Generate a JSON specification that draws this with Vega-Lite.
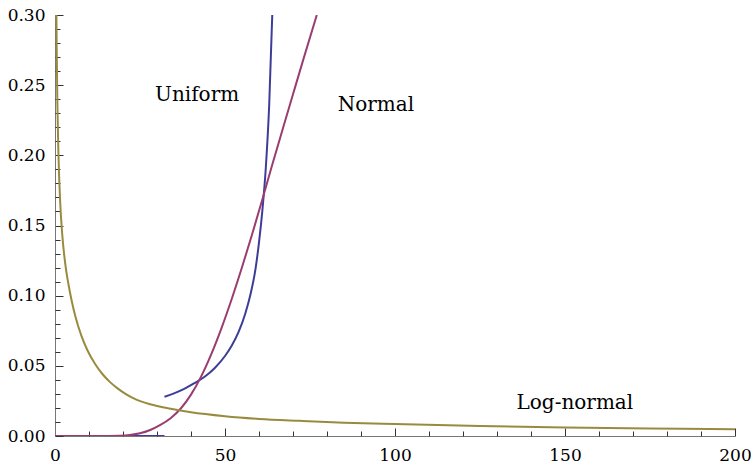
{
  "$schema": "https://vega.github.io/schema/vega-lite/v6.json",
  "width": 680,
  "height": 421,
  "autosize": {"type": "none"},
  "padding": {"left": 55, "top": 15, "right": 16, "bottom": 27},
  "config": {
    "view": {"stroke": null},
    "axis": {"grid": false, "labelFont": "DejaVu Serif", "labelFontSize": 17, "labelColor": "#000", "title": null}
  },
  "datasets": {
    "curves": [
      {"dist": "Uniform", "part": "u0", "x": 0, "y": 0},
      {"dist": "Uniform", "part": "u0", "x": 32.2, "y": 0},
      {"dist": "Uniform", "part": "u1", "x": 32.2, "y": 0.028},
      {"dist": "Uniform", "part": "u1", "x": 35, "y": 0.0304},
      {"dist": "Uniform", "part": "u1", "x": 38, "y": 0.0336},
      {"dist": "Uniform", "part": "u1", "x": 41, "y": 0.0376},
      {"dist": "Uniform", "part": "u1", "x": 44, "y": 0.0422},
      {"dist": "Uniform", "part": "u1", "x": 47, "y": 0.0485},
      {"dist": "Uniform", "part": "u1", "x": 50, "y": 0.057},
      {"dist": "Uniform", "part": "u1", "x": 52, "y": 0.0645},
      {"dist": "Uniform", "part": "u1", "x": 54, "y": 0.0742},
      {"dist": "Uniform", "part": "u1", "x": 56, "y": 0.0875},
      {"dist": "Uniform", "part": "u1", "x": 57.5, "y": 0.101},
      {"dist": "Uniform", "part": "u1", "x": 59, "y": 0.1195},
      {"dist": "Uniform", "part": "u1", "x": 60, "y": 0.138},
      {"dist": "Uniform", "part": "u1", "x": 61, "y": 0.161},
      {"dist": "Uniform", "part": "u1", "x": 62, "y": 0.191},
      {"dist": "Uniform", "part": "u1", "x": 63, "y": 0.236},
      {"dist": "Uniform", "part": "u1", "x": 63.9, "y": 0.30},
      {"dist": "Normal", "part": "n", "x": 0, "y": 0},
      {"dist": "Normal", "part": "n", "x": 12, "y": 0},
      {"dist": "Normal", "part": "n", "x": 16, "y": 0.00005},
      {"dist": "Normal", "part": "n", "x": 19, "y": 0.0002},
      {"dist": "Normal", "part": "n", "x": 22, "y": 0.0007},
      {"dist": "Normal", "part": "n", "x": 25, "y": 0.0019},
      {"dist": "Normal", "part": "n", "x": 28, "y": 0.0043},
      {"dist": "Normal", "part": "n", "x": 31, "y": 0.0079},
      {"dist": "Normal", "part": "n", "x": 34, "y": 0.0127},
      {"dist": "Normal", "part": "n", "x": 37, "y": 0.0196},
      {"dist": "Normal", "part": "n", "x": 40, "y": 0.0295},
      {"dist": "Normal", "part": "n", "x": 43, "y": 0.0425},
      {"dist": "Normal", "part": "n", "x": 46, "y": 0.0585},
      {"dist": "Normal", "part": "n", "x": 49, "y": 0.0771},
      {"dist": "Normal", "part": "n", "x": 52, "y": 0.0978},
      {"dist": "Normal", "part": "n", "x": 55, "y": 0.1202},
      {"dist": "Normal", "part": "n", "x": 58, "y": 0.1439},
      {"dist": "Normal", "part": "n", "x": 61, "y": 0.1687},
      {"dist": "Normal", "part": "n", "x": 64, "y": 0.1942},
      {"dist": "Normal", "part": "n", "x": 67, "y": 0.2189},
      {"dist": "Normal", "part": "n", "x": 70, "y": 0.2435},
      {"dist": "Normal", "part": "n", "x": 73, "y": 0.268},
      {"dist": "Normal", "part": "n", "x": 77, "y": 0.30},
      {"dist": "Log-normal", "part": "l", "x": 0.38, "y": 0.31},
      {"dist": "Log-normal", "part": "l", "x": 0.5, "y": 0.276},
      {"dist": "Log-normal", "part": "l", "x": 0.7, "y": 0.237},
      {"dist": "Log-normal", "part": "l", "x": 1.0, "y": 0.202},
      {"dist": "Log-normal", "part": "l", "x": 1.5, "y": 0.168},
      {"dist": "Log-normal", "part": "l", "x": 2.1, "y": 0.1445},
      {"dist": "Log-normal", "part": "l", "x": 2.7, "y": 0.129},
      {"dist": "Log-normal", "part": "l", "x": 3.3, "y": 0.1177},
      {"dist": "Log-normal", "part": "l", "x": 4.0, "y": 0.1076},
      {"dist": "Log-normal", "part": "l", "x": 4.9, "y": 0.0964},
      {"dist": "Log-normal", "part": "l", "x": 6.0, "y": 0.0852},
      {"dist": "Log-normal", "part": "l", "x": 7.8, "y": 0.0712},
      {"dist": "Log-normal", "part": "l", "x": 9.5, "y": 0.0613},
      {"dist": "Log-normal", "part": "l", "x": 11.8, "y": 0.0513},
      {"dist": "Log-normal", "part": "l", "x": 14, "y": 0.044},
      {"dist": "Log-normal", "part": "l", "x": 16.2, "y": 0.0384},
      {"dist": "Log-normal", "part": "l", "x": 18.2, "y": 0.0343},
      {"dist": "Log-normal", "part": "l", "x": 20.5, "y": 0.0304},
      {"dist": "Log-normal", "part": "l", "x": 23, "y": 0.027},
      {"dist": "Log-normal", "part": "l", "x": 28, "y": 0.0226},
      {"dist": "Log-normal", "part": "l", "x": 34, "y": 0.0194},
      {"dist": "Log-normal", "part": "l", "x": 40, "y": 0.0169},
      {"dist": "Log-normal", "part": "l", "x": 50, "y": 0.0141},
      {"dist": "Log-normal", "part": "l", "x": 60, "y": 0.0122},
      {"dist": "Log-normal", "part": "l", "x": 72, "y": 0.0108},
      {"dist": "Log-normal", "part": "l", "x": 85, "y": 0.0095},
      {"dist": "Log-normal", "part": "l", "x": 100, "y": 0.0085},
      {"dist": "Log-normal", "part": "l", "x": 125, "y": 0.0071},
      {"dist": "Log-normal", "part": "l", "x": 150, "y": 0.0061},
      {"dist": "Log-normal", "part": "l", "x": 175, "y": 0.0054},
      {"dist": "Log-normal", "part": "l", "x": 200, "y": 0.0048}
    ],
    "labels": [
      {"label": "Uniform", "x": 41.8, "y": 0.243},
      {"label": "Normal", "x": 94.4, "y": 0.236},
      {"label": "Log-normal", "x": 152.9, "y": 0.0235}
    ]
  },
  "layer": [
    {
      "data": {"name": "curves"},
      "mark": {"type": "line", "strokeWidth": 2, "interpolate": "monotone", "clip": true},
      "encoding": {
        "x": {"field": "x", "type": "quantitative", "scale": {"domain": [0, 200], "nice": false, "zero": false},
              "axis": {"orient": "bottom", "values": [0, 50, 100, 150, 200], "format": "d", "tickSize": -8, "tickColor": "#333", "domainColor": "#777", "labelPadding": 19, "labelFlush": false}},
        "y": {"field": "y", "type": "quantitative", "scale": {"domain": [0, 0.3], "nice": false, "zero": false},
              "axis": {"orient": "left", "values": [0, 0.05, 0.1, 0.15, 0.2, 0.25, 0.3], "format": ".2f", "tickSize": -8, "tickColor": "#333", "domainColor": "#777", "labelPadding": 18, "labelFlush": false}},
        "color": {"field": "dist", "type": "nominal", "scale": {"domain": ["Uniform", "Normal", "Log-normal"], "range": ["#3d3d99", "#993d71", "#998b3d"]}, "legend": null},
        "detail": {"field": "part", "type": "nominal"}
      }
    },
    {
      "data": {"name": "curves"},
      "mark": {"type": "point", "opacity": 0},
      "encoding": {
        "x": {"field": "x", "type": "quantitative", "scale": {"domain": [0, 200], "nice": false, "zero": false},
              "axis": {"orient": "bottom", "values": [10, 20, 30, 40, 60, 70, 80, 90, 110, 120, 130, 140, 160, 170, 180, 190], "labels": false, "domain": false, "tickSize": -5, "tickColor": "#333"}},
        "y": {"field": "y", "type": "quantitative", "scale": {"domain": [0, 0.3], "nice": false, "zero": false},
              "axis": {"orient": "left", "values": [0.01, 0.02, 0.03, 0.04, 0.06, 0.07, 0.08, 0.09, 0.11, 0.12, 0.13, 0.14, 0.16, 0.17, 0.18, 0.19, 0.21, 0.22, 0.23, 0.24, 0.26, 0.27, 0.28, 0.29], "labels": false, "domain": false, "tickSize": -5, "tickColor": "#333"}}
      }
    },
    {
      "data": {"name": "labels"},
      "mark": {"type": "text", "font": "DejaVu Serif", "fontSize": 20, "align": "center", "baseline": "middle", "color": "#000"},
      "encoding": {
        "x": {"field": "x", "type": "quantitative", "axis": null},
        "y": {"field": "y", "type": "quantitative", "axis": null},
        "text": {"field": "label", "type": "nominal"}
      }
    }
  ],
  "resolve": {"axis": {"x": "independent", "y": "independent"}}
}
